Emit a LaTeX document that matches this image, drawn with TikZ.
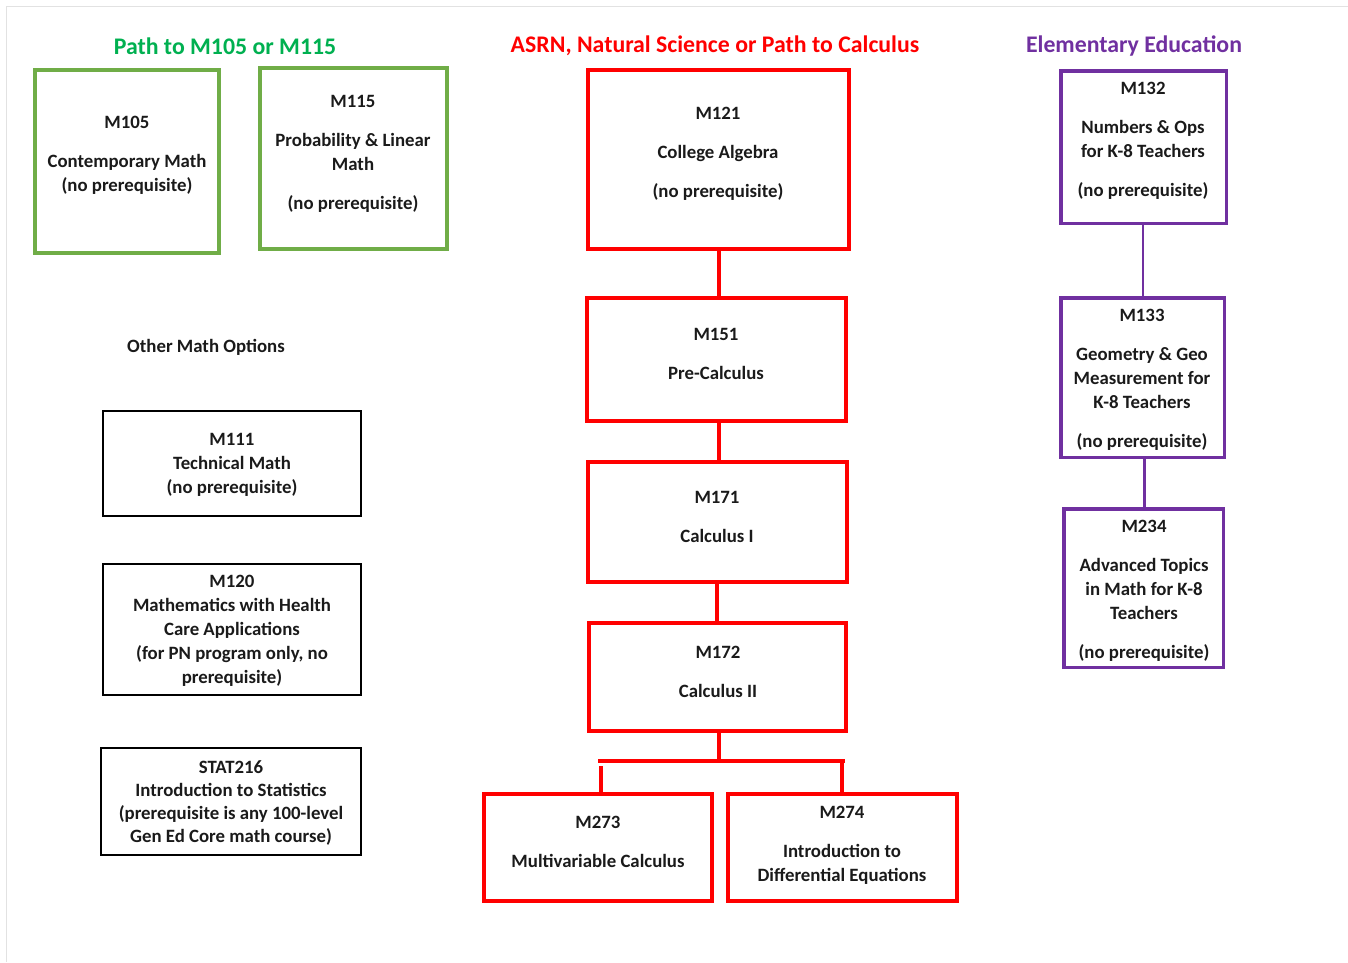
\documentclass[tikz,border=0pt]{standalone}
\usepackage{fontspec}
\setmainfont{Carlito}
\definecolor{gbord}{HTML}{70AD47}
\definecolor{gtitle}{HTML}{00B050}
\definecolor{rred}{HTML}{FF0000}
\definecolor{ppur}{HTML}{7030A0}
\definecolor{txt}{HTML}{1A1A1A}
\definecolor{frame}{HTML}{E2E2E2}
\tikzset{
  box/.style={draw, rectangle, inner sep=0pt, fill=none},
  gbox/.style={box, draw=gbord, line width=4pt},
  rbox/.style={box, draw=rred, line width=4pt},
  pbox/.style={box, draw=ppur, line width=3.5pt},
  kbox/.style={box, draw=black, line width=2pt},
  btext/.style={align=center, inner sep=0pt, yshift=-2pt, text=txt, font=\fontsize{18.8}{24}\selectfont\bfseries},
  ttl/.style={inner sep=0pt, yshift=-1pt, font=\fontsize{23.8}{28}\selectfont\bfseries},
  rline/.style={draw=rred, line width=4pt},
  pline/.style={draw=ppur},
}
\newcommand{\gap}{\\[15pt]}
\begin{document}
\begin{tikzpicture}[x=1pt,y=-1pt]
\useasboundingbox (0,0) rectangle (1348,962);
\draw[frame, line width=1pt] (6,962) -- (6,6) -- (1348,6);

% titles
\node[ttl, text=gtitle] (t1) at (225,45) {Path to M105 or M115};
\node[ttl, text=rred] (t2) at (715,45) {ASRN, Natural Science or Path to Calculus};
\node[ttl, text=ppur] (t3) at (1134,45) {Elementary Education};

% green boxes
\node[gbox, minimum width=184pt, minimum height=183pt] (m105) at (127,161.5) {};
\node[btext] (m105t) at (127,153) {M105\gap Contemporary Math\\(no prerequisite)};
\node[gbox, minimum width=187pt, minimum height=181pt] (m115) at (353.5,158.5) {};
\node[btext] (m115t) at (353,151.5) {M115\gap Probability \& Linear\\Math\gap (no prerequisite)};

% red boxes
\node[rbox, minimum width=261pt, minimum height=179pt] (m121) at (718.5,159.5) {};
\node[btext] (m121t) at (718,151.5) {M121\gap College Algebra\gap (no prerequisite)};
\node[rbox, minimum width=259pt, minimum height=123pt] (m151) at (716.5,359.5) {};
\node[btext] (m151t) at (716,351.5) {M151\gap Pre-Calculus};
\node[rbox, minimum width=259pt, minimum height=120pt] (m171) at (717.5,522) {};
\node[btext] (m171t) at (717,514.5) {M171\gap Calculus I};
\node[rbox, minimum width=257pt, minimum height=108pt] (m172) at (717.5,677) {};
\node[btext] (m172t) at (718,669.5) {M172\gap Calculus II};
\node[rbox, minimum width=228pt, minimum height=107pt] (m273) at (598,847.5) {};
\node[btext] (m273t) at (598,839.5) {M273\gap Multivariable Calculus};
\node[rbox, minimum width=229pt, minimum height=107pt] (m274) at (842.5,847.5) {};
\node[btext] (m274t) at (842,843) {M274\gap Introduction to\\Differential Equations};

% purple boxes
\node[pbox, minimum width=165.5pt, minimum height=152.5pt] (m132) at (1143.5,147) {};
\node[btext] (m132t) at (1143,139) {M132\gap Numbers \& Ops\\for K-8 Teachers\gap (no prerequisite)};
\node[pbox, minimum width=163.5pt, minimum height=159.5pt] (m133) at (1142.5,377.5) {};
\node[btext] (m133t) at (1142,378) {M133\gap Geometry \& Geo\\Measurement for\\K-8 Teachers\gap (no prerequisite)};
\node[pbox, minimum width=159.5pt, minimum height=158.5pt] (m234) at (1143.5,588) {};
\node[btext] (m234t) at (1144,588.5) {M234\gap Advanced Topics\\in Math for K-8\\Teachers\gap (no prerequisite)};

% other options
\node[btext] (other) at (206,345) {Other Math Options};
\node[kbox, minimum width=258pt, minimum height=105pt] (m111) at (232,463.5) {};
\node[btext] (m111t) at (232,462.5) {M111\\Technical Math\\(no prerequisite)};
\node[kbox, minimum width=258pt, minimum height=131pt] (m120) at (232,629.5) {};
\node[btext] (m120t) at (232,629) {M120\\Mathematics with Health\\Care Applications\\(for PN program only, no\\prerequisite)};
\node[kbox, minimum width=260pt, minimum height=107pt] (s216) at (231,801.5) {};
\node[btext, font=\fontsize{18.8}{23.3}\selectfont\bfseries] (s216t) at (231,801) {STAT216\\Introduction to Statistics\\(prerequisite is any 100-level\\Gen Ed Core math course)};

% red connectors
\draw[rline] (m121.south -| 719,0) -- (m151.north -| 719,0);
\draw[rline] (m151.south -| 719,0) -- (m171.north -| 719,0);
\draw[rline] (m171.south -| 717,0) -- (m172.north -| 717,0);
\coordinate (bar) at (719,761);
\coordinate (barl) at (598,761);
\coordinate (barr) at (845,761);
\draw[rline] (m172.south -| bar) -- (bar);
\draw[rline] (barl) -- (barr);
\draw[rline] (601,766) -- (m273.north -| 601,0);
\draw[rline] (barr -| 842,0) -- (m274.north -| 842,0);

% purple connectors
\draw[pline, line width=2pt] (m132.south -| 1143,0) -- (m133.north -| 1143,0);
\draw[pline, line width=3pt] (m133.south -| 1144,0) -- (m234.north -| 1144,0);
\end{tikzpicture}
\end{document}
